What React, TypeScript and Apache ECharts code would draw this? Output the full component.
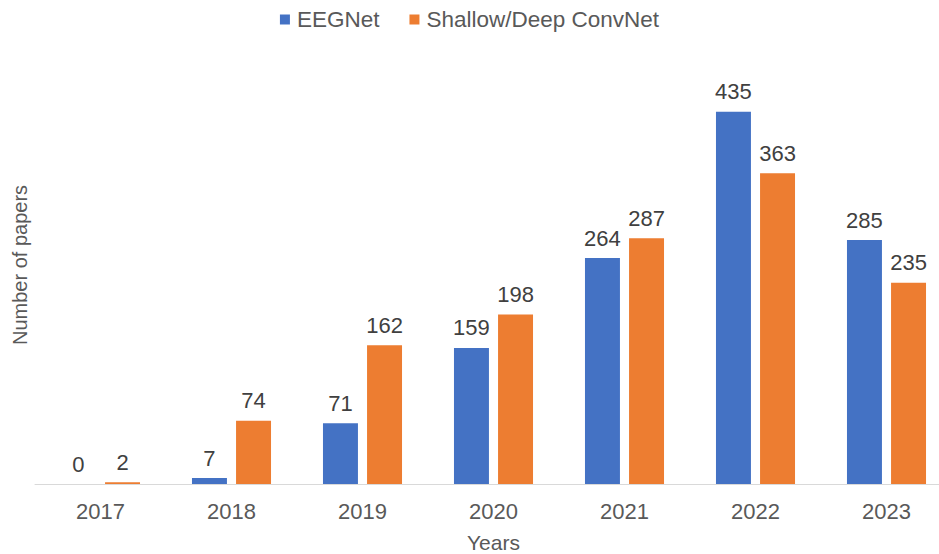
import React, { useEffect, useRef } from "react";
import * as echarts from "echarts";

const years = ["2017", "2018", "2019", "2020", "2021", "2022", "2023"];
const eegnet = [0, 7, 71, 159, 264, 435, 285];
const shallowDeep = [2, 74, 162, 198, 287, 363, 235];
const xTitle = "Years";
const yTitle = "Number of papers";

export default function App() {
  const ref = useRef<HTMLDivElement>(null);
  useEffect(() => {
    if (!ref.current) return;
    const chart = echarts.init(ref.current, null, { renderer: "svg" });
    const font = "'Liberation Sans', Arial, sans-serif";
    const label = {
      show: true,
      position: "top",
      distance: 9,
      fontSize: 22,
      color: "#404040",
      fontFamily: font,
    };
    chart.setOption({
      animation: false,
      backgroundColor: "#ffffff",
      textStyle: { fontFamily: font },
      legend: {
        top: 3,
        left: "center",
        itemWidth: 10,
        itemHeight: 10,
        itemGap: 30,
        icon: "rect",
        textStyle: {
          fontSize: 22.5,
          color: "#595959",
          fontFamily: font,
          padding: [0, 0, 0, 2],
        },
        data: ["EEGNet", "Shallow/Deep ConvNet"],
      },
      grid: {
        left: 35,
        right: -13,
        top: 56,
        bottom: 70,
        containLabel: false,
        outerBoundsMode: "none",
      },
      graphic: [
        {
          type: "text",
          x: 20,
          y: 265,
          rotation: Math.PI / 2,
          style: {
            text: yTitle,
            align: "center",
            verticalAlign: "middle",
            fontSize: 20,
            fontFamily: font,
            fill: "#595959",
          },
        },
      ],
      xAxis: {
        type: "category",
        data: years,
        name: xTitle,
        nameLocation: "middle",
        nameGap: 48,
        nameTextStyle: { fontSize: 21, color: "#595959", fontFamily: font },
        axisLine: { lineStyle: { color: "#d9d9d9", width: 1 } },
        axisTick: { show: false },
        axisLabel: { fontSize: 22, color: "#595959", margin: 16, fontFamily: font },
      },
      yAxis: {
        type: "value",
        min: 0,
        max: 500,
        axisLine: { show: false },
        axisTick: { show: false },
        axisLabel: { show: false },
        splitLine: { show: false },
      },
      series: [
        {
          name: "EEGNet",
          type: "bar",
          data: eegnet,
          barWidth: "26.7%",
          barGap: "26%",
          itemStyle: { color: "#4472C4" },
          label,
        },
        {
          name: "Shallow/Deep ConvNet",
          type: "bar",
          data: shallowDeep,
          barWidth: "26.7%",
          itemStyle: { color: "#ED7D31" },
          label,
        },
      ],
    });
    return () => chart.dispose();
  }, []);
  return <div ref={ref} style={{ width: 939, height: 554, position: "absolute", left: 0, top: 0 }} />;
}
